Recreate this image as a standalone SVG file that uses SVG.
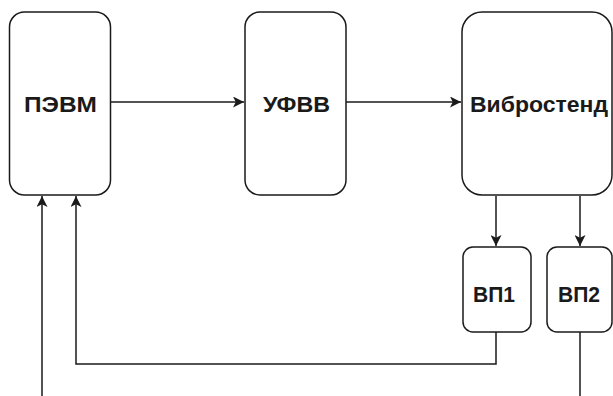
<svg xmlns="http://www.w3.org/2000/svg" width="613" height="396" viewBox="0 0 613 396">
<style>
.box{fill:#fff;stroke:#1a1a1a;stroke-width:1.5}
.lbl{font-family:"Liberation Sans",Arial,sans-serif;font-weight:bold;font-size:22px;fill:#1a1a1a;text-anchor:middle}
.ln{fill:none;stroke:#1a1a1a;stroke-width:1.5}
</style>
<defs>
<marker id="ah" viewBox="0 0 10 10" refX="10" refY="5" markerWidth="11" markerHeight="11" markerUnits="userSpaceOnUse" orient="auto">
<path d="M0,0 L10,5 L0,10 L2.5,5 Z" fill="#1a1a1a"/>
</marker>
</defs>
<rect width="613" height="396" fill="#fff"/>
<g id="connectors">
<path class="ln" d="M111,102 H244" marker-end="url(#ah)"/>
<path class="ln" d="M346,102 H461" marker-end="url(#ah)"/>
<path class="ln" d="M496,196 V246" marker-end="url(#ah)"/>
<path class="ln" d="M580,196 V246" marker-end="url(#ah)"/>
<path class="ln" d="M496,332 V364 H76 V196" marker-end="url(#ah)"/>
<path class="ln" d="M580,332 V396"/>
<path class="ln" d="M42,396 V196" marker-end="url(#ah)"/>
</g>
<g id="pevm">
<rect class="box" x="9.5" y="12" width="101" height="183" rx="15"/>
<text class="lbl" x="60.5" y="112" textLength="73" lengthAdjust="spacingAndGlyphs">ПЭВМ</text>
</g>
<g id="ufvv">
<rect class="box" x="245" y="12" width="101" height="183" rx="15"/>
<text class="lbl" x="296.5" y="112" textLength="67" lengthAdjust="spacingAndGlyphs">УФВВ</text>
</g>
<g id="vibrostend">
<rect class="box" x="462" y="12" width="150" height="183" rx="20"/>
<text class="lbl" x="539" y="112" textLength="138" lengthAdjust="spacingAndGlyphs">Вибростенд</text>
</g>
<g id="vp1">
<rect class="box" x="463" y="247" width="68" height="85" rx="10"/>
<text class="lbl" x="494" y="302" textLength="42" lengthAdjust="spacingAndGlyphs">ВП1</text>
</g>
<g id="vp2">
<rect class="box" x="547" y="247" width="65" height="85" rx="10"/>
<text class="lbl" x="579" y="302" textLength="42" lengthAdjust="spacingAndGlyphs">ВП2</text>
</g>
</svg>
